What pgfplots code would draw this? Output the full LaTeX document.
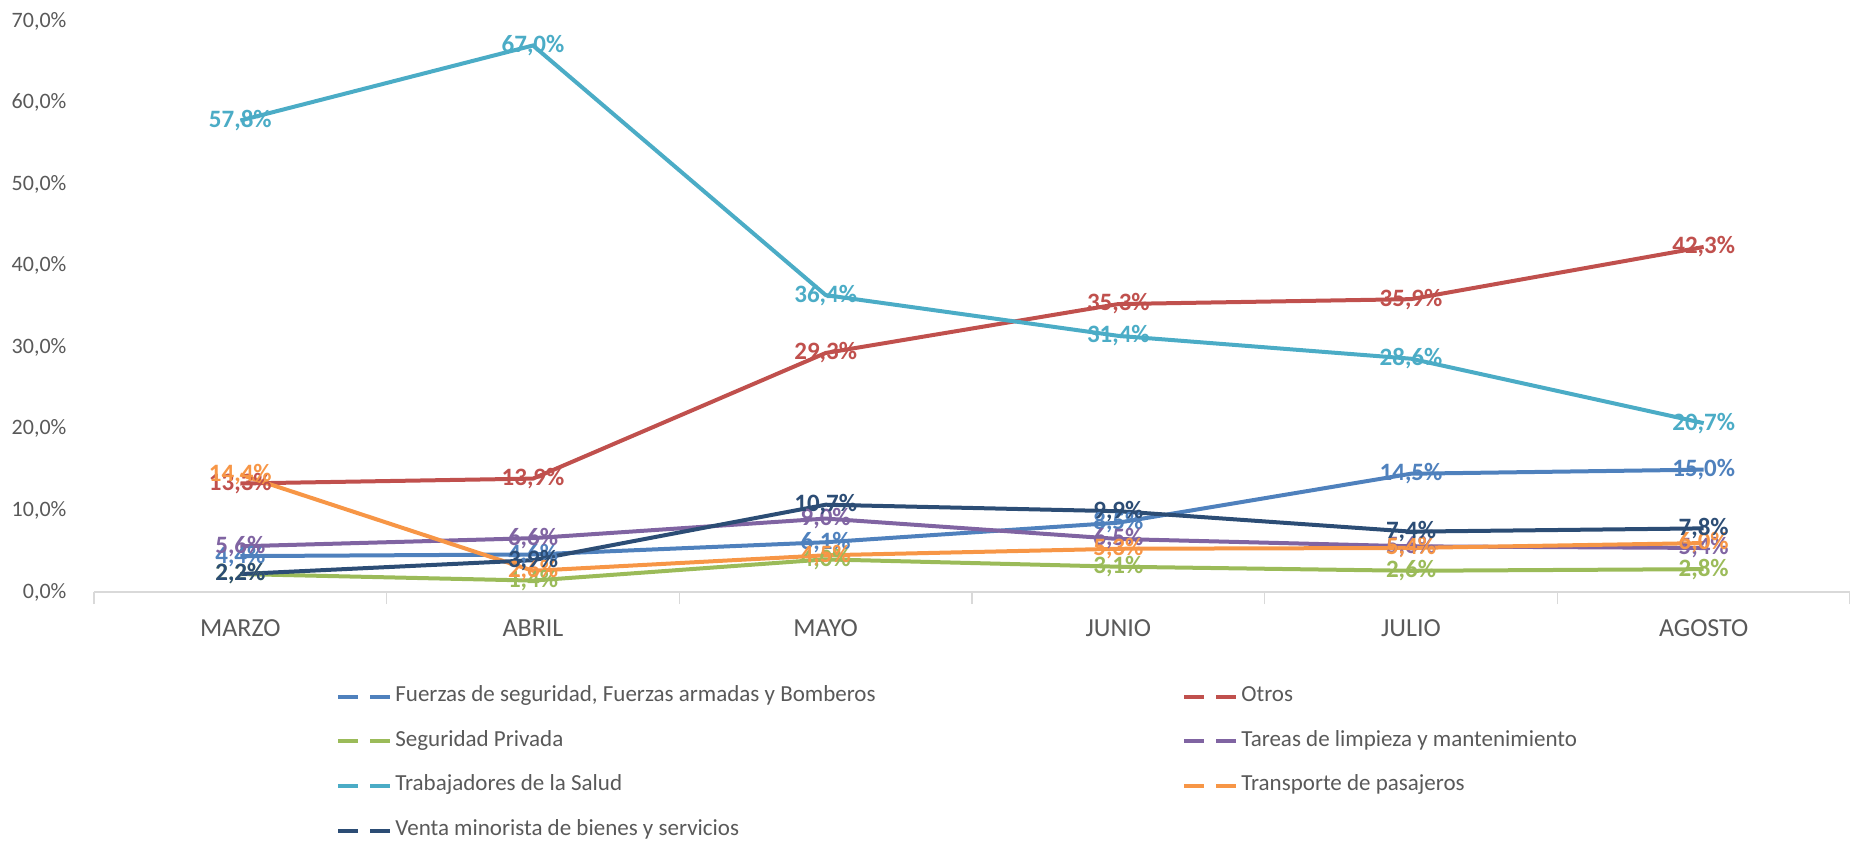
\documentclass[border=0pt]{standalone}
\usepackage{pgfplots}
\pgfplotsset{compat=1.18}
\usepackage{fontspec}
\setmainfont{Carlito}
\definecolor{cFu}{HTML}{4F81BD}
\definecolor{cOt}{HTML}{C0504D}
\definecolor{cSe}{HTML}{9BBB59}
\definecolor{cTa}{HTML}{8064A2}
\definecolor{cSa}{HTML}{4BACC6}
\definecolor{cTr}{HTML}{F79646}
\definecolor{cVe}{HTML}{2C4D75}
\definecolor{cTxt}{HTML}{595959}
\definecolor{cAx}{HTML}{D9D9D9}
\begin{document}
\begin{tikzpicture}
\useasboundingbox (0,0) rectangle (925pt,420pt);
\begin{axis}[
  at={(47pt,124pt)}, anchor=south west,
  width=878pt, height=285.5pt, scale only axis,
  xmin=-0.5, xmax=5.5, ymin=0, ymax=70,
  clip=false,
  axis x line*=bottom, axis y line*=left,
  y axis line style={draw=none},
  x axis line style={draw=cAx, line width=0.75pt, -},
  xtick={0,1,2,3,4,5},
  xticklabels={MARZO,ABRIL,MAYO,JUNIO,JULIO,AGOSTO},
  major x tick style={draw=none},
  minor xtick={-0.5,0.5,1.5,2.5,3.5,4.5,5.5},
  minor tick length=6pt,
  tick align=outside,
  minor x tick style={draw=cAx, line width=0.75pt},
  ytick={0,10,20,30,40,50,60,70},
  ytick style={draw=none},
  /pgf/number format/assume math mode=true,
  yticklabel={\pgfmathprintnumber[fixed,fixed zerofill,precision=1,use comma]{\tick}\%},
  yticklabel style={font=\fontsize{11}{13}\selectfont, text=cTxt, xshift=-6pt},
  xticklabel style={font=\fontsize{13}{15}\selectfont, text=cTxt, yshift=-6pt},
  every axis plot/.append style={line width=2pt, mark=none},
  nodes near coords={\pgfmathprintnumber[fixed,fixed zerofill,precision=1,use comma]{\pgfplotspointmeta}\%},
  every node near coord/.append style={anchor=center, inner sep=0pt, font=\bfseries\fontsize{12.5}{14}\selectfont},
  legend columns=2,
  legend cell align=left,
  legend image code/.code={\draw[#1, line width=2pt, dash pattern=on 10pt off 6pt] (0pt,0pt) -- (26pt,0pt);},
  legend style={at={(0.1378,-0.160)}, anchor=north west, draw=none, fill=none,
    inner sep=0pt, row sep=9.3pt,
    font=\fontsize{11.5}{13}\selectfont, text=cTxt,
    nodes={text height=7.5pt, text depth=2.5pt, inner sep=1.5pt}},
]
\addplot[cFu, every node near coord/.append style={text=cFu}] coordinates {(0,4.4) (1,4.6) (2,6.1) (3,8.5) (4,14.5) (5,15.0)};
\addlegendentry{\makebox[392pt][l]{Fuerzas de seguridad, Fuerzas armadas y Bomberos}}
\addplot[cOt, every node near coord/.append style={text=cOt}] coordinates {(0,13.3) (1,13.9) (2,29.3) (3,35.3) (4,35.9) (5,42.3)};
\addlegendentry{Otros}
\addplot[cSe, every node near coord/.append style={text=cSe}] coordinates {(0,2.2) (1,1.4) (2,4.0) (3,3.1) (4,2.6) (5,2.8)};
\addlegendentry{\makebox[392pt][l]{Seguridad Privada}}
\addplot[cTa, every node near coord/.append style={text=cTa}] coordinates {(0,5.6) (1,6.6) (2,9.0) (3,6.5) (4,5.6) (5,5.4)};
\addlegendentry{Tareas de limpieza y mantenimiento}
\addplot[cSa, every node near coord/.append style={text=cSa}] coordinates {(0,57.8) (1,67.0) (2,36.4) (3,31.4) (4,28.6) (5,20.7)};
\addlegendentry{\makebox[392pt][l]{Trabajadores de la Salud}}
\addplot[cTr, every node near coord/.append style={text=cTr}] coordinates {(0,14.4) (1,2.6) (2,4.5) (3,5.3) (4,5.4) (5,6.0)};
\addlegendentry{Transporte de pasajeros}
\addplot[cVe, every node near coord/.append style={text=cVe}] coordinates {(0,2.2) (1,3.9) (2,10.7) (3,9.9) (4,7.4) (5,7.8)};
\addlegendentry{\makebox[392pt][l]{Venta minorista de bienes y servicios}}
\end{axis}
\end{tikzpicture}
\end{document}
